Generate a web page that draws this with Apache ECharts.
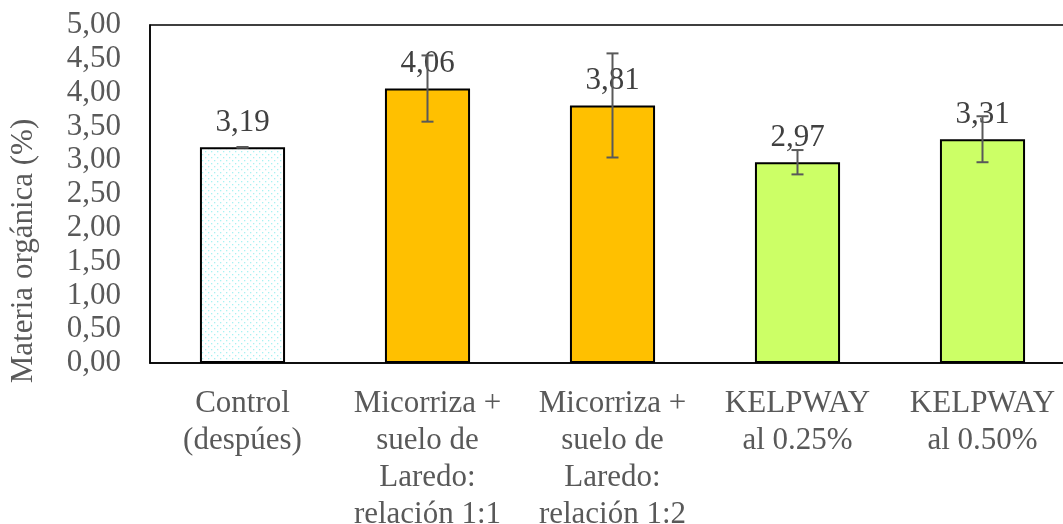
<!DOCTYPE html>
<html>
<head>
<meta charset="utf-8">
<script src="https://cdn.jsdelivr.net/npm/echarts@6/dist/echarts.min.js"></script>
<style>
  html, body { margin: 0; padding: 0; background: #fff; }
  #main { width: 1063px; height: 524px; }
</style>
</head>
<body>
<div id="main"></div>
<script>
// datos
var categorias = [
  "Control\n(despúes)",
  "Micorriza +\nsuelo de\nLaredo:\nrelación 1:1",
  "Micorriza +\nsuelo de\nLaredo:\nrelación 1:2",
  "KELPWAY\nal 0.25%",
  "KELPWAY\nal 0.50%"
];
var materia = [3.19, 4.06, 3.81, 2.97, 3.31];
var errores = [0.005, 0.49, 0.77, 0.18, 0.34];
var colores = ["pattern", "#FFC000", "#FFC000", "#CCFF66", "#CCFF66"];
var ticksY = [0, 0.5, 1, 1.5, 2, 2.5, 3, 3.5, 4, 4.5, 5];

// patron de puntos para el control
var cv = document.createElement("canvas");
cv.width = 6;
cv.height = 6;
var cx = cv.getContext("2d");
cx.fillStyle = "#ffffff";
cx.fillRect(0, 0, 6, 6);
cx.fillStyle = "#a8f2f2";
cx.fillRect(1, 1, 1.3, 1.3);
cx.fillRect(4, 4, 1.3, 1.3);

var fuente = "Liberation Serif";
var chartDom = document.getElementById("main");
var myChart = echarts.init(chartDom);

var barras = materia.map(function (v, i) {
  return {
    value: v,
    itemStyle: {
      color: colores[i] === "pattern" ? { image: cv, repetition: "repeat" } : colores[i]
    }
  };
});

var errData = materia.map(function (v, i) {
  return [i, v - errores[i], v + errores[i]];
});

var option = {
  animation: false,
  grid: {
    left: 150,
    top: 25,
    width: 925,
    height: 338,
    outerBoundsMode: "none",
    containLabel: false,
    show: true,
    borderColor: "#000",
    borderWidth: 1.5,
    backgroundColor: "transparent"
  },
  xAxis: {
    type: "category",
    data: categorias,
    axisLine: { show: true, lineStyle: { color: "#000", width: 1.5 } },
    axisTick: { show: false },
    axisLabel: {
      interval: 0,
      margin: 22,
      color: "#595959",
      fontFamily: fuente,
      fontSize: 31,
      lineHeight: 37
    }
  },
  yAxis: {
    type: "value",
    min: ticksY[0],
    max: ticksY[ticksY.length - 1],
    interval: 0.5,
    axisLine: { show: true, lineStyle: { color: "#000", width: 1.5 } },
    axisTick: { show: false },
    splitLine: { show: false },
    axisLabel: {
      margin: 29,
      color: "#595959",
      fontFamily: fuente,
      fontSize: 31,
      formatter: function (v) { return v.toFixed(2).replace(".", ","); }
    }
  },
  graphic: [{
    type: "text",
    x: 24,
    y: 251,
    rotation: Math.PI / 2,
    style: {
      text: "Materia orgánica (%)",
      fill: "#595959",
      font: "31px " + fuente,
      textAlign: "center",
      textVerticalAlign: "middle"
    }
  }],
  series: [
    {
      type: "bar",
      data: barras,
      barWidth: "46%",
      itemStyle: { borderColor: "#000", borderWidth: 2 },
      label: {
        show: true,
        position: "top",
        distance: 9,
        color: "#404040",
        fontFamily: fuente,
        fontSize: 31,
        formatter: function (p) { return p.value.toFixed(2).replace(".", ","); }
      },
      z: 2
    },
    {
      type: "custom",
      data: errData,
      z: 5,
      renderItem: function (params, api) {
        var x = api.value(0);
        var lo = api.coord([x, api.value(1)]);
        var hi = api.coord([x, api.value(2)]);
        var c = 6;
        var st = { stroke: "#595959", lineWidth: 2 };
        return {
          type: "group",
          children: [
            { type: "line", shape: { x1: lo[0], y1: lo[1], x2: hi[0], y2: hi[1] }, style: st },
            { type: "line", shape: { x1: lo[0] - c, y1: lo[1], x2: lo[0] + c, y2: lo[1] }, style: st },
            { type: "line", shape: { x1: hi[0] - c, y1: hi[1], x2: hi[0] + c, y2: hi[1] }, style: st }
          ]
        };
      }
    }
  ]
};

option && myChart.setOption(option);
</script>
</body>
</html>
